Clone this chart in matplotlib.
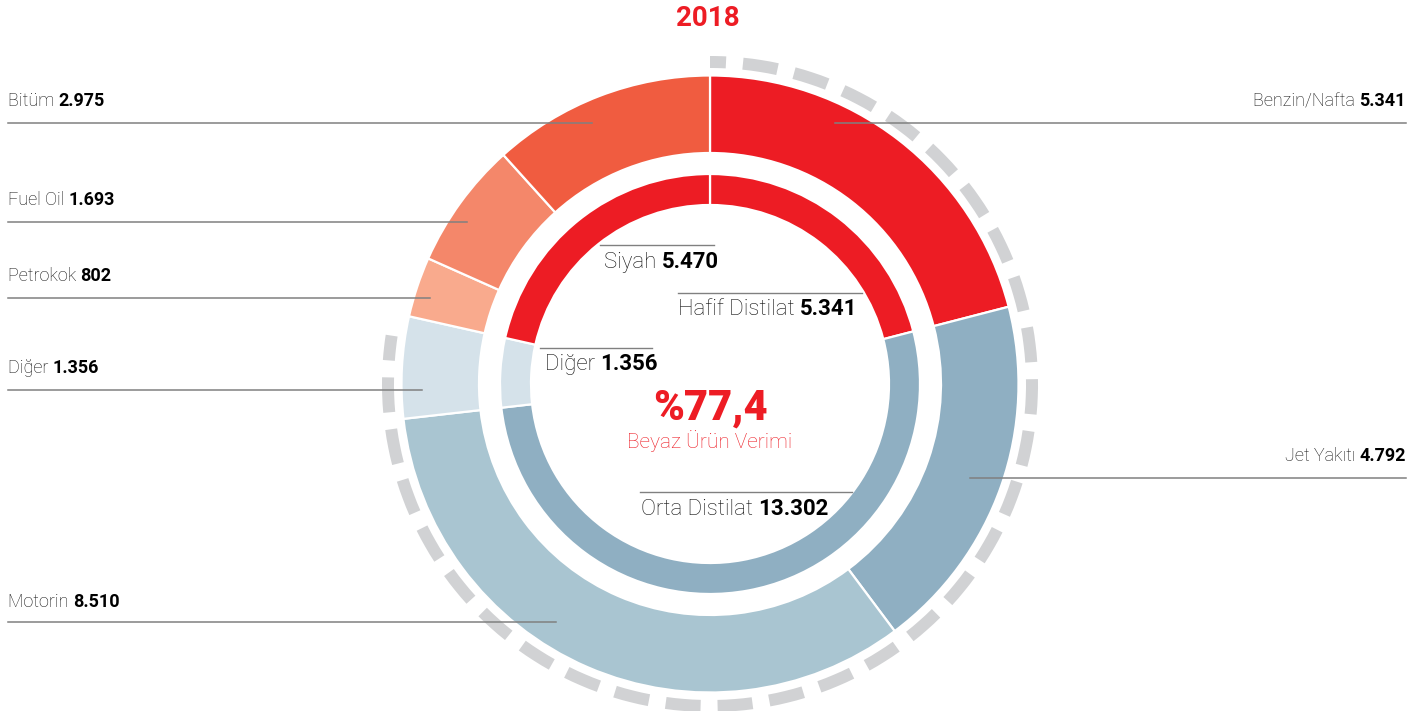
import matplotlib.pyplot as plt
import numpy as np

# outer ring (clockwise from top)
outer_names = ['Benzin/Nafta', 'Jet Yakıtı', 'Motorin', 'Diğer', 'Petrokok', 'Fuel Oil', 'Bitüm']
outer_values = [5341, 4792, 8510, 1356, 802, 1693, 2975]
outer_labels = ['5.341', '4.792', '8.510', '1.356', '802', '1.693', '2.975']
outer_colors = ['#ED1C24', '#8FAFC2', '#A9C5D1', '#D5E2EA', '#F9AA8D', '#F4876A', '#F05C40']

# inner ring
inner_names = ['Hafif Distilat', 'Orta Distilat', 'Diğer', 'Siyah']
inner_values = [5341, 13302, 1356, 5470]
inner_labels = ['5.341', '13.302', '1.356', '5.470']
inner_colors = ['#ED1C24', '#8FAFC2', '#D5E2EA', '#ED1C24']

white_yield = 77.4
year = '2018'

W, H = 1425, 711
fig = plt.figure(figsize=(W / 100, H / 100), dpi=100)
ax = fig.add_axes([0, 0, 1, 1])

cx, cy = 710, H - 384

ax.pie(outer_values, colors=outer_colors, startangle=90, counterclock=False,
       center=(cx, cy), radius=308.5,
       wedgeprops=dict(width=77.5, edgecolor='white', linewidth=1.6))
ax.pie(inner_values, colors=inner_colors, startangle=90, counterclock=False,
       center=(cx, cy), radius=210,
       wedgeprops=dict(width=31, edgecolor='white', linewidth=1.6))

# dashed arc showing white product yield
r_dash, w_dash = 322, 12
span = white_yield / 100 * 360
dash, gap, phase = 35, 17, 19
arc_len = np.deg2rad(span) * r_dash
s = -phase
while s < arc_len:
    a0, a1 = max(s, 0), min(s + dash, arc_len)
    if a1 > a0:
        t0 = 90 - np.rad2deg(a1 / r_dash)
        t1 = 90 - np.rad2deg(a0 / r_dash)
        ax.add_patch(plt.matplotlib.patches.Wedge((cx, cy), r_dash + w_dash / 2, t0, t1,
                                                  width=w_dash, color='#D1D2D4', lw=0, zorder=0))
    s += dash + gap

ax.set_xlim(0, W)
ax.set_ylim(0, H)
ax.set_aspect('equal')
ax.axis('off')

fam = ['Roboto', 'DejaVu Sans']
line_c = '#808080'


def label(x, y, name, num, size, align='left'):
    if align == 'left':
        t = ax.text(x, H - y, name + ' ', fontsize=size, fontweight='light', family=fam,
                    color='#111111', ha='left', va='baseline', zorder=5)
        ax.annotate(num, xy=(1, 0), xycoords=t, fontsize=size, fontweight='bold', family=fam,
                    color='black', ha='left', va='bottom', zorder=5)
    else:
        t = ax.text(x, H - y, num, fontsize=size, fontweight='bold', family=fam,
                    color='black', ha='right', va='baseline', zorder=5)
        ax.annotate(name + ' ', xy=(0, 0), xycoords=t, fontsize=size, fontweight='light', family=fam,
                    color='#111111', ha='right', va='bottom', zorder=5)


# outer labels: (text x, baseline y, line y, line x0, line x1, align)
outer_pos = [
    (1406, 106, 123, 835, 1406, 'right'),
    (1406, 461, 478, 970, 1406, 'right'),
    (8, 607, 622, 8, 556, 'left'),
    (8, 373, 390, 8, 422, 'left'),
    (8, 281, 298, 8, 430, 'left'),
    (8, 205, 222, 8, 467, 'left'),
    (8, 106, 123, 8, 592, 'left'),
]
for name, num, (tx, ty, ly, lx0, lx1, al) in zip(outer_names, outer_labels, outer_pos):
    label(tx, ty, name, num, 13, al)
    ax.plot([lx0, lx1], [H - ly, H - ly], color=line_c, lw=1.1, zorder=4)

inner_pos = [
    (678, 315, 293, 678, 862),
    (641, 515, 492, 640, 852),
    (545, 370, 348, 540, 652),
    (604, 268, 245, 600, 714),
]
for name, num, (tx, ty, ly, lx0, lx1) in zip(inner_names, inner_labels, inner_pos):
    label(tx, ty, name, num, 16, 'left')
    ax.plot([lx0, lx1], [H - ly, H - ly], color=line_c, lw=1.0, zorder=4)

red = '#ED1C24'
ax.text(cx, H - 408, '%' + f'{white_yield:.1f}'.replace('.', ','), fontsize=30, fontweight='heavy',
        family=fam, color=red, ha='center', va='center')
ax.text(cx, H - 441, 'Beyaz Ürün Verimi', fontsize=15, fontweight='light',
        family=fam, color=red, ha='center', va='center')
ax.text(708, H - 19, year, fontsize=20, fontweight='bold', family=fam,
        color=red, ha='center', va='center')

fig.savefig('out.png', dpi=100)
